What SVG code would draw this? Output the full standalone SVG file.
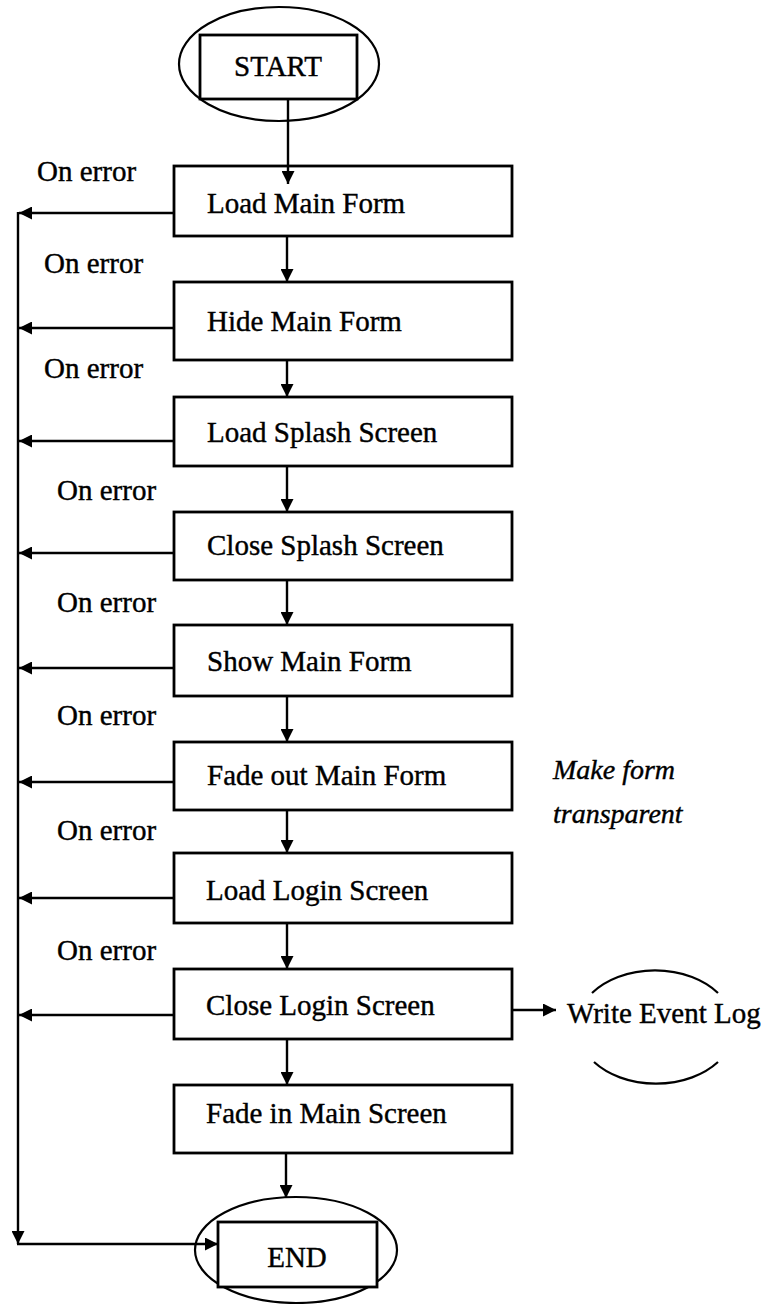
<svg xmlns="http://www.w3.org/2000/svg" width="772" height="1304" viewBox="0 0 772 1304">
  <defs>
    <marker id="arrow" viewBox="0 0 13 13" refX="13" refY="6.5" markerWidth="13" markerHeight="13" markerUnits="userSpaceOnUse" orient="auto">
      <path d="M0,0 L13,6.5 L0,13 Z" fill="#000"/>
    </marker>
    <style>
      .box { fill: #fff; stroke: #000; stroke-width: 2.8; }
      .term { fill: none; stroke: #000; stroke-width: 2.2; }
      .lbl { font-family: "Liberation Serif", "Times New Roman", serif; font-size: 29px; fill: #000; stroke: #000; stroke-width: 0.4; }
      .note { font-family: "Liberation Serif", "Times New Roman", serif; font-size: 28px; font-style: italic; fill: #000; stroke: #000; stroke-width: 0.4; }
      .conn { fill: none; stroke: #000; stroke-width: 2.4; }
      .arr { marker-end: url(#arrow); }
    </style>
  </defs>
  <rect width="772" height="1304" fill="#fff"/>

  <!-- start terminal -->
  <g id="start">
    <ellipse class="term" cx="279" cy="64" rx="100" ry="57"/>
    <rect class="box" x="200" y="35" width="157" height="64"/>
    <text class="lbl" x="278" y="76" text-anchor="middle">START</text>
  </g>

  <!-- process steps -->
  <g id="load-main-form">
    <rect class="box" x="174" y="166" width="338" height="70"/>
    <text class="lbl" x="207" y="213">Load Main Form</text>
  </g>
  <g id="hide-main-form">
    <rect class="box" x="174" y="282" width="338" height="78"/>
    <text class="lbl" x="207" y="331">Hide Main Form</text>
  </g>
  <g id="load-splash-screen">
    <rect class="box" x="174" y="397" width="338" height="69"/>
    <text class="lbl" x="207" y="442">Load Splash Screen</text>
  </g>
  <g id="close-splash-screen">
    <rect class="box" x="174" y="512" width="338" height="68"/>
    <text class="lbl" x="207" y="555">Close Splash Screen</text>
  </g>
  <g id="show-main-form">
    <rect class="box" x="174" y="625" width="338" height="71"/>
    <text class="lbl" x="207" y="671">Show Main Form</text>
  </g>
  <g id="fade-out-main-form">
    <rect class="box" x="174" y="742" width="338" height="68"/>
    <text class="lbl" x="207" y="785">Fade out Main Form</text>
  </g>
  <g id="load-login-screen">
    <rect class="box" x="174" y="853" width="338" height="70"/>
    <text class="lbl" x="206" y="900">Load Login Screen</text>
  </g>
  <g id="close-login-screen">
    <rect class="box" x="174" y="969" width="338" height="70"/>
    <text class="lbl" x="206" y="1015">Close Login Screen</text>
  </g>
  <g id="fade-in-main-screen">
    <rect class="box" x="174" y="1085" width="338" height="68"/>
    <text class="lbl" x="206" y="1123">Fade in Main Screen</text>
  </g>

  <!-- end terminal -->
  <g id="end">
    <ellipse class="term" cx="296" cy="1250" rx="101" ry="53"/>
    <rect class="box" x="218" y="1222" width="159" height="65"/>
    <text class="lbl" x="297" y="1267" text-anchor="middle">END</text>
  </g>

  <!-- side node: event log -->
  <g id="write-event-log">
    <path class="term" d="M592,993 A79,57 0 0 1 718,993"/>
    <path class="term" d="M594,1062 A79,57 0 0 0 718,1062"/>
    <text class="lbl" x="567" y="1023">Write Event Log</text>
  </g>

  <!-- annotation beside the fade-out step -->
  <g id="note-transparent">
    <text class="note" x="553" y="779">Make form</text>
    <text class="note" x="553" y="823">transparent</text>
  </g>

  <!-- error labels -->
  <g id="error-labels">
    <text class="lbl" x="37" y="181">On error</text>
    <text class="lbl" x="44" y="273">On error</text>
    <text class="lbl" x="44" y="378">On error</text>
    <text class="lbl" x="57" y="500">On error</text>
    <text class="lbl" x="57" y="612">On error</text>
    <text class="lbl" x="57" y="725">On error</text>
    <text class="lbl" x="57" y="840">On error</text>
    <text class="lbl" x="57" y="960">On error</text>
  </g>

  <!-- connectors -->
  <g id="connectors">
    <!-- main flow -->
    <line class="conn arr" x1="288" y1="99" x2="288" y2="184"/>
    <line class="conn arr" x1="287" y1="236" x2="287" y2="282"/>
    <line class="conn arr" x1="287" y1="360" x2="287" y2="397"/>
    <line class="conn arr" x1="287" y1="466" x2="287" y2="512"/>
    <line class="conn arr" x1="287" y1="580" x2="287" y2="625"/>
    <line class="conn arr" x1="287" y1="696" x2="287" y2="742"/>
    <line class="conn arr" x1="287" y1="810" x2="287" y2="853"/>
    <line class="conn arr" x1="287" y1="923" x2="287" y2="969"/>
    <line class="conn arr" x1="287" y1="1039" x2="287" y2="1085"/>
    <line class="conn arr" x1="286" y1="1153" x2="286" y2="1198"/>

    <!-- error branches into the left rail -->
    <line class="conn arr" x1="174" y1="213" x2="19" y2="213"/>
    <line class="conn arr" x1="174" y1="328" x2="19" y2="328"/>
    <line class="conn arr" x1="174" y1="441" x2="19" y2="441"/>
    <line class="conn arr" x1="174" y1="553" x2="19" y2="553"/>
    <line class="conn arr" x1="174" y1="668" x2="19" y2="668"/>
    <line class="conn arr" x1="174" y1="782" x2="19" y2="782"/>
    <line class="conn arr" x1="174" y1="898" x2="19" y2="898"/>
    <line class="conn arr" x1="174" y1="1015" x2="19" y2="1015"/>

    <!-- left rail down to the end terminal -->
    <line class="conn arr" x1="18" y1="212" x2="18" y2="1244"/>
    <line class="conn arr" x1="17" y1="1244" x2="218" y2="1244"/>

    <!-- event log branch -->
    <line class="conn arr" x1="512" y1="1010" x2="556" y2="1010"/>
  </g>
</svg>
